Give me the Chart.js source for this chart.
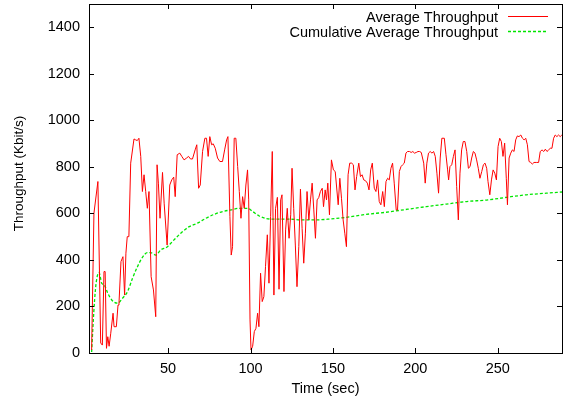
<!DOCTYPE html>
<html><head><meta charset="utf-8">
<script src="https://cdn.jsdelivr.net/npm/chart.js@4.4.1/dist/chart.umd.min.js"></script>
<style>html,body{margin:0;padding:0;background:#fff;}#wrap{width:563px;height:402px;position:relative;}</style>
</head><body><div id="wrap"><canvas id="c" width="563" height="402"></canvas></div>
<script>
const seriesLabels = ['Average Throughput', 'Cumulative Average Throughput'];
const xAxisTitle = 'Time (sec)';
const yAxisTitle = 'Throughput (Kbit/s)';
const xTickValues = [50, 100, 150, 200, 250];
const yTickValues = [0, 200, 400, 600, 800, 1000, 1200, 1400];

const avgTimes = [
3.6,5.0,7.4,9.1,10.1,11.1,11.8,12.6,13.4,14.2,15.2,16.6,17.2,18.6,19.6,20.2,21.4,22.6,23.6,24.4,25.2,26.2,27.3,29.3,30.3,31.3,32.3,33.4,34.4,35.4,36.4,37.4,38.4,39.7,41.1,42.5,43.3,44.1,45.1,46.6,47.6,49.4,
51.0,52.2,53.4,54.3,55.5,57.1,58.3,59.7,61.2,62.4,63.6,64.8,66.4,67.4,68.5,69.5,70.9,72.3,73.3,74.3,75.3,76.4,77.4,78.6,80.0,81.4,83.0,84.3,85.5,86.3,87.5,88.3,89.1,90.1,91.1,92.2,93.2,94.2,95.2,96.2,97.2,98.2,
98.9,99.7,100.3,101.3,102.3,103.3,104.3,105.1,106.1,107.1,108.1,109.1,110.2,111.2,112.2,113.2,114.2,115.2,116.3,117.3,118.3,119.1,120.3,121.3,122.3,123.4,124.4,125.2,126.2,127.2,128.2,129.3,130.3,131.3,132.3,133.3,134.3,135.4,136.4,137.4,138.4,139.4,140.4,141.4,142.4,143.5,144.3,145.3,146.1,146.9,
147.9,149.1,150.3,151.4,153.2,154.2,155.2,156.2,157.2,158.2,159.2,160.2,161.4,162.4,163.4,164.4,165.7,166.7,167.7,168.7,169.7,170.9,171.9,172.9,173.9,175.1,176.1,177.1,178.1,179.1,180.2,181.2,182.2,183.2,184.2,185.2,186.2,187.2,188.4,189.2,190.3,191.3,192.3,193.3,194.3,195.3,
196.5,197.5,198.5,199.5,200.6,201.6,202.6,203.6,205.1,206.0,207.0,208.0,209.0,210.1,211.1,212.1,213.1,214.1,215.1,216.1,217.6,218.6,219.6,220.2,221.0,222.1,223.1,224.1,225.1,226.1,227.1,228.1,229.1,230.1,231.2,232.2,233.2,234.2,235.2,236.2,237.2,238.2,239.2,240.3,241.3,242.3,243.3,
244.1,245.2,246.2,247.2,248.2,249.2,250.2,251.2,252.2,253.2,254.2,255.2,255.9,256.9,257.9,258.9,259.9,260.9,261.9,262.9,264.0,265.0,266.0,267.0,268.0,269.0,270.0,271.0,272.0,273.4,274.8,275.8,276.9,277.9,278.9,279.9,280.9,281.9,282.9,283.9,284.9,285.9,286.9,287.9,288.9
];
const avgValues = [
13,601,737,43,34,350,350,20,70,29,85,171,113,113,206,215,393,414,249,429,500,500,816,920,916,913,923,845,694,766,694,622,694,328,271,156,809,730,579,776,644,464,
722,744,756,672,852,859,845,830,838,845,834,834,873,895,708,722,866,923,923,845,930,895,899,880,838,823,823,873,916,930,586,421,457,923,923,801,694,579,672,622,722,787,
658,142,13,29,92,106,171,113,343,221,242,371,508,300,586,866,249,622,669,274,658,680,264,529,622,493,594,794,622,464,285,457,704,536,386,515,694,572,658,730,615,493,658,668,694,708,629,701,658,730,
594,830,787,780,637,751,665,572,515,457,766,816,816,809,701,758,816,758,766,744,741,730,701,787,816,708,694,744,651,637,694,629,737,751,744,794,816,730,615,615,780,801,809,816,859,866,
866,862,866,859,862,866,866,862,816,730,816,859,866,859,866,845,773,687,838,923,923,852,787,744,801,809,845,873,715,572,773,873,909,909,866,794,801,838,866,859,830,794,751,780,809,816,794,
737,680,744,787,773,744,887,923,909,845,902,751,637,838,859,873,866,916,933,930,937,923,916,923,895,823,819,812,819,819,819,866,873,866,876,866,873,880,880,923,937,930,937,930,937
];

const cumTimes = [3.6,4.4,5.4,6.4,8.1,9.7,11.3,13.4,15.8,19.3,22.3,25.4,28.4,31.4,34.4,37.4,39.5,42.5,45.5,49.6,52.6,57.7,62.8,67.8,72.9,78.0,83.0,88.1,93.2,98.2,101.3,105.3,109.4,115.5,123.6,131.7,139.8,146.9,158.0,170.2,182.4,195.5,206.6,218.8,231.0,244.1,255.2,267.4,279.5,289.0];
const cumValues = [4,113,228,305,346,300,292,257,228,214,235,264,321,371,411,431,431,421,443,457,479,515,543,558,579,596,608,615,622,622,608,589,578,575,575,572,572,575,583,596,605,618,629,640,651,658,669,680,687,692];

const FONT = "'Liberation Sans', Arial, Helvetica, sans-serif";
const FS = 14.5;
const TICK_LEN = 5;

const framePlugin = {
  id: 'frame',
  afterDatasetsDraw(chart) {
    const {ctx, chartArea: a, scales} = chart;
    const xs = scales.x, ys = scales.y;
    ctx.save();
    ctx.strokeStyle = '#000';
    ctx.lineWidth = 1;
    ctx.beginPath();
    xs.ticks.forEach(t => {
      const px = Math.round(xs.getPixelForValue(t.value)) + 0.5;
      ctx.moveTo(px, a.bottom); ctx.lineTo(px, a.bottom - TICK_LEN);
      ctx.moveTo(px, a.top); ctx.lineTo(px, a.top + TICK_LEN);
    });
    ys.ticks.forEach(t => {
      const py = Math.round(ys.getPixelForValue(t.value)) + 0.5;
      ctx.moveTo(a.left, py); ctx.lineTo(a.left + TICK_LEN, py);
      ctx.moveTo(a.right, py); ctx.lineTo(a.right - TICK_LEN, py);
    });
    ctx.stroke();
    ctx.strokeRect(a.left + 0.5, a.top + 0.5, a.right - a.left, a.bottom - a.top);
    ctx.restore();
  },
  afterDraw(chart) {
    const ctx = chart.ctx;
    const a = chart.chartArea;
    const rows = [{y: 17.5, ds: chart.data.datasets[0]}, {y: 32.5, ds: chart.data.datasets[1]}];
    ctx.save();
    ctx.font = FS + 'px ' + FONT;
    ctx.fillStyle = '#000';
    ctx.textAlign = 'right';
    ctx.textBaseline = 'middle';
    rows.forEach(r => {
      ctx.fillText(r.ds.label, 498, r.y);
      ctx.strokeStyle = r.ds.borderColor;
      ctx.lineWidth = r.ds.borderWidth;
      ctx.setLineDash(r.ds.borderDash || []);
      ctx.beginPath();
      ctx.moveTo(508, Math.round(r.y) - 1.5);
      ctx.lineTo(548, Math.round(r.y) - 1.5);
      ctx.stroke();
    });
    ctx.setLineDash([]);
    // y axis title
    ctx.translate(19, (a.top + a.bottom) / 2 - 5);
    ctx.rotate(-Math.PI / 2);
    ctx.textAlign = 'center';
    ctx.font = '13.5px ' + FONT;
    ctx.fillText(yAxisTitle, 0, 0);
    ctx.restore();
  }
};

const zeroPad = s => { s.paddingTop = 0; s.paddingBottom = 0; s.paddingLeft = 0; s.paddingRight = 0; };

new Chart(document.getElementById('c'), {
  type: 'line',
  data: {
    datasets: [
      {
        label: seriesLabels[0],
        data: avgTimes.map((t, i) => ({x: t, y: avgValues[i]})),
        borderColor: '#ff0000',
        borderWidth: 1,
        pointRadius: 0,
        tension: 0,
        fill: false
      },
      {
        label: seriesLabels[1],
        data: cumTimes.map((t, i) => ({x: t, y: cumValues[i]})),
        borderColor: '#00e600',
        borderWidth: 1.3,
        borderDash: [3, 2],
        pointRadius: 0,
        cubicInterpolationMode: 'monotone',
        fill: false
      }
    ]
  },
  options: {
    responsive: false,
    animation: false,
    devicePixelRatio: 1,
    layout: {padding: {top: 4, right: 1, left: 0, bottom: 0}},
    plugins: {legend: {display: false}, tooltip: {enabled: false}},
    scales: {
      x: {
        type: 'linear',
        min: 2, max: 289,
        grid: {display: false, drawTicks: false},
        border: {display: false},
        afterBuildTicks: s => { s.ticks = xTickValues.map(v => ({value: v})); },
        afterFit: s => { s.height = 49; zeroPad(s); },
        ticks: {color: '#000', font: {family: FONT, size: FS}, padding: 7, maxRotation: 0, autoSkip: false, callback: v => String(v)},
        title: {display: true, text: xAxisTitle, color: '#000', font: {family: FONT, size: FS}, padding: {top: 0, bottom: 4}}
      },
      y: {
        type: 'linear',
        min: 0, max: 1500,
        grid: {display: false, drawTicks: false},
        border: {display: false},
        afterBuildTicks: s => { s.ticks = yTickValues.map(v => ({value: v})); },
        afterFit: s => { s.width = 89; zeroPad(s); },
        ticks: {color: '#000', font: {family: FONT, size: FS}, padding: 9, autoSkip: false, callback: v => String(v)},
        title: {display: false}
      }
    }
  },
  plugins: [framePlugin]
});
</script>
</body></html>
